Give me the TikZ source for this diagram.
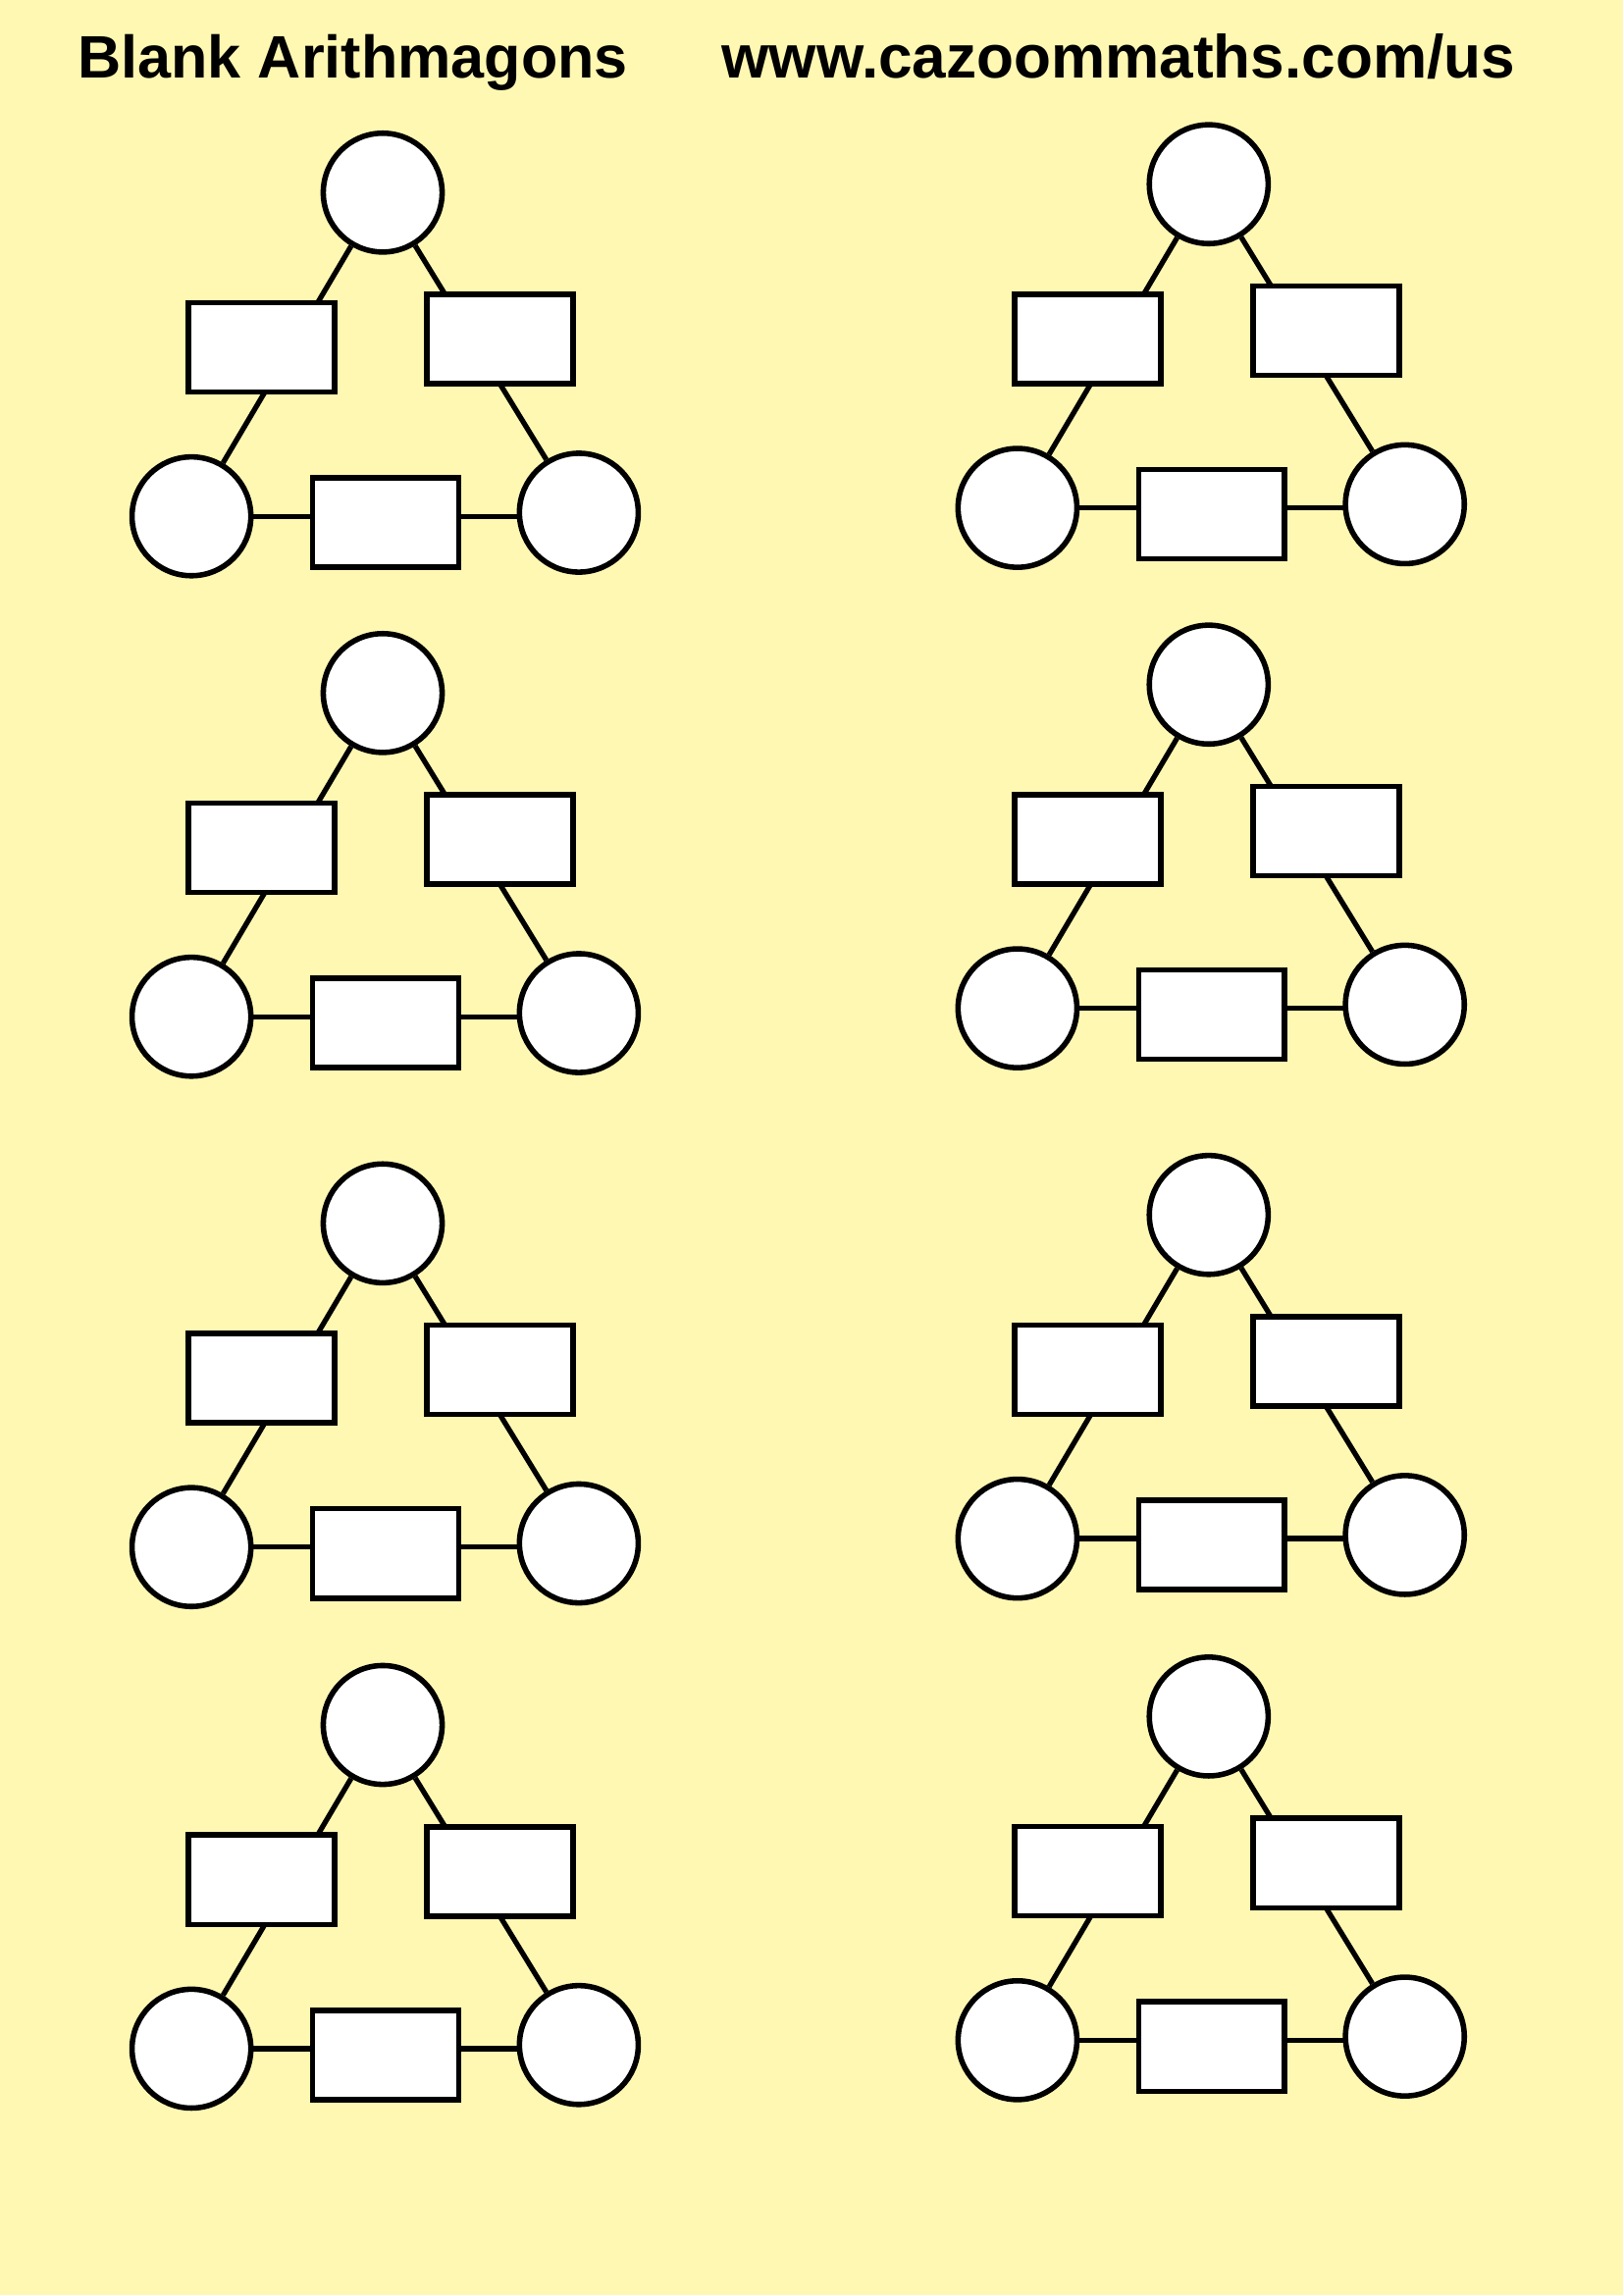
\documentclass[tikz,border=0pt]{standalone}
\usepackage{fontspec}
\setmainfont{Liberation Sans}
\definecolor{pagebg}{RGB}{255,248,178}
\pgfdeclarelayer{bg}
\pgfdeclarelayer{lines}
\pgfsetlayers{bg,lines,main}
\tikzset{
  ball/.style={circle, draw=black, fill=white, line width=2pt, inner sep=0pt, minimum size=43.6pt},
  slot/.style={rectangle, draw=black, fill=white, line width=2pt, inner sep=0pt, minimum width=53.6pt, minimum height=32.8pt},
  link/.style={draw=black, line width=1.9pt},
  heading/.style={anchor=base west, inner sep=0pt, font=\bfseries\fontsize{22}{26}\selectfont}
}
\newcommand\arithmagon[3]{%
  \begin{scope}[shift={(#2,#3)}]
    \node[ball] (#1t) at (390,196.3) {};
    \node[ball] (#1bl) at (195.1,526.2) {};
    \node[ball] (#1br) at (589.9,522.5) {};
    \node[slot] (#1l) at (266.6,354) {};
    \node[slot] (#1r) at (509.7,345.6) {};
    \node[slot] (#1b) at (393,532.7) {};
  \end{scope}
  \begin{pgfonlayer}{lines}
    \draw[link] (#1t) -- (#1bl);
    \draw[link] (#1t) -- (#1br);
    \draw[link] (#1bl.center) -- (#1bl.center -| #1br.center);
  \end{pgfonlayer}
}
\begin{document}
\begin{tikzpicture}[x=0.36pt, y=-0.36pt]
  \useasboundingbox (0,0) rectangle (1654,2339);
  \begin{pgfonlayer}{bg}
    \fill[pagebg] (0,0) rectangle (1654,2339);
  \end{pgfonlayer}
  \node[heading] (title) at (79,79) {Blank Arithmagons};
  \node[heading, font=\bfseries\fontsize{22.35}{26}\selectfont] (url) at (735,79) {www.cazoommaths.com/us};
  \arithmagon{a1}{0}{0}
  \arithmagon{a2}{0}{510}
  \arithmagon{a3}{0}{1050.5}
  \arithmagon{a4}{0}{1561.7}
  \arithmagon{b1}{841.8}{-8.6}
  \arithmagon{b2}{841.8}{501.4}
  \arithmagon{b3}{841.8}{1041.9}
  \arithmagon{b4}{841.8}{1553.1}
\end{tikzpicture}
\end{document}
